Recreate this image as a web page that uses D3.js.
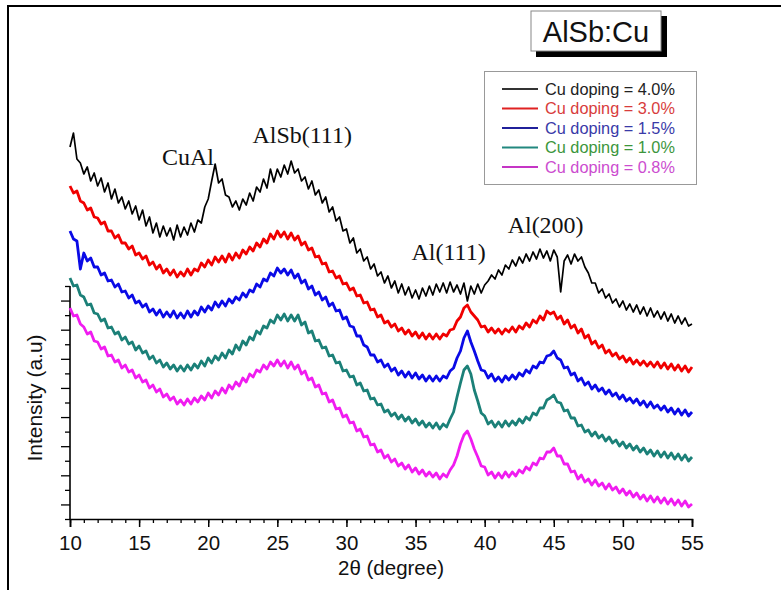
<!DOCTYPE html>
<html><head><meta charset="utf-8">
<script src="https://cdn.jsdelivr.net/npm/d3@7"></script>
<style>body{margin:0;background:#fff}svg{display:block}</style>
</head><body>
<svg id="chart" width="781" height="590"></svg>
<script>
// ---------- data ----------
const thetaStart = 10, thetaStep = 0.25, nPoints = 181;
const twoTheta = d3.range(nPoints).map(i => thetaStart + i * thetaStep);

const cu40 = [
372,386,360,356, 345,352,338,346, 333,341,327,336, 320,330,316,322, 310,318,305,313,
299,309,293,302, 286,296,282,293, 283,291,279,294, 282,292,284,296, 287,299,296,312,
320,338,355,336, 340,324,322,312, 318,309,320,314, 326,318,332,327, 340,331,350,337,
350,342,354,345, 358,346,350,338, 342,330,338,324, 329,316,322,307, 312,298,302,288,
290,276,281,266, 270,258,262,250, 255,243,247,236, 243,231,238,226, 235,224,232,221,
229,220,231,223, 233,224,235,227, 236,226,237,227, 234,225,236,218, 233,225,235,226,
234,238,244,240, 249,244,254,250, 259,253,262,256, 265,258,267,260, 270,261,268,258,
269,262,227,258, 264,255,265,258, 262,252,246,236, 236,226,230,221, 225,216,220,212,
218,209,215,207, 214,205,212,203, 211,202,208,200, 207,198,205,196, 203,195,201,193,
195];
const cu30 = [
333,326,328,318, 316,309,311,302, 301,295,297,288, 288,281,284,276, 276,270,273,264,
266,260,263,254, 257,250,254,246, 250,244,249,242, 247,243,250,244, 250,248,256,252,
259,254,262,257, 263,257,265,259, 266,261,269,265, 272,268,276,272, 280,276,285,280,
288,282,287,280, 286,279,283,274, 277,269,271,262, 263,255,256,247, 248,241,243,235,
236,229,231,223, 224,216,217,209, 210,202,204,196, 198,192,195,188, 191,185,189,183,
187,181,186,180, 185,180,185,180, 185,183,189,190, 198,202,211,214, 207,203,199,192,
193,187,191,186, 190,185,190,187, 192,187,193,190, 196,192,199,196, 203,199,208,205,
207,200,203,195, 199,191,194,186, 190,181,184,175, 178,171,174,166, 169,163,166,160,
163,157,161,155, 159,154,158,153, 157,152,157,151, 156,150,155,149, 154,148,153,147,
152];
const cu15 = [
288,280,278,250, 266,258,261,252, 252,244,246,238, 239,232,235,227, 228,221,224,216,
218,212,215,207, 210,204,209,202, 207,202,208,201, 206,201,208,202, 208,204,212,207,
213,209,217,212, 218,213,220,216, 222,219,226,222, 229,227,235,232, 240,238,246,243,
251,246,250,244, 249,241,245,236, 239,230,233,224, 227,219,222,213, 216,208,209,200,
202,193,192,183, 183,174,172,164, 164,157,159,152, 155,148,151,144, 148,142,147,141,
146,140,144,138, 143,138,143,138, 143,141,148,151, 161,168,181,188, 177,168,158,149,
148,141,145,138, 142,137,143,139, 144,140,146,143, 149,146,153,151, 157,156,163,164,
168,161,159,151, 152,144,146,138, 141,134,137,130, 134,128,131,125, 129,123,126,120,
124,118,121,116, 120,114,118,112, 117,111,114,109, 113,107,111,105, 110,104,109,103,
107];
const cu10 = [
241,233,234,224, 222,214,215,206, 205,198,200,191, 192,185,187,179, 182,175,177,169,
173,166,168,160, 163,156,159,152, 156,150,154,148, 153,148,154,149, 155,151,158,153,
161,156,163,159, 166,161,169,165, 174,169,178,174, 182,179,188,185, 193,191,199,196,
204,199,205,198, 204,198,204,194, 197,186,188,178, 179,171,172,163, 164,156,157,148,
149,142,143,134, 136,128,129,120, 121,114,115,107, 109,103,106,100, 104,98,102,96,
100,94,98,92, 96,91,96,90, 95,92,100,107, 122,136,149,153, 145,129,118,106,
103,95,98,92, 97,92,98,93, 98,94,100,96, 102,99,106,104, 111,111,119,121,
124,117,116,108, 109,101,101,93, 94,87,89,83, 87,81,84,78, 82,76,79,73,
77,71,75,69, 73,67,71,65, 69,63,68,62, 67,61,66,60, 65,59,64,58,
62];
const cu08 = [
211,203,204,195, 192,185,187,178, 177,170,172,163, 164,157,159,151, 154,147,149,141,
144,137,139,131, 134,127,130,122, 125,119,122,115, 119,114,120,115, 121,117,123,119,
126,121,128,124, 131,126,134,130, 137,133,141,137, 145,142,149,147, 154,150,157,153,
159,153,158,151, 157,150,154,145, 148,139,141,132, 134,125,126,117, 119,110,111,102,
104,96,97,88, 90,82,83,74, 75,67,69,61, 64,57,60,53, 56,50,54,47,
51,45,49,43, 47,42,46,40, 45,42,49,54, 63,75,84,88, 80,70,62,53,
52,44,47,41, 46,41,47,42, 47,43,49,46, 52,49,56,54, 61,60,67,67,
71,63,63,55, 55,47,48,40, 44,37,40,34, 39,33,36,30, 35,29,32,26,
30,24,28,22, 26,20,24,18, 23,17,22,16, 21,15,20,14, 19,13,18,12,
15];

const seriesLabels = ["Cu doping = 4.0%","Cu doping = 3.0%","Cu doping = 1.5%","Cu doping = 1.0%","Cu doping = 0.8%"];
const seriesValues = [cu40, cu30, cu15, cu10, cu08];
const lineColors   = ["#000000","#f00000","#0a0ae6","#1b8078","#f01cf0"];
const legendLineColors = ["#333333","#e02222","#20209a","#22887f","#c535c5"];
const legendTextColors = ["#222222","#d83c3c","#3a3aa8","#3c963c","#cc4ccf"];

const xDomain = [10, 55];
const xMajorTicks = [10,15,20,25,30,35,40,45,50,55];
const xMinorTicks = d3.range(10, 56, 1);
const yAxisMax = 233, yTickCount = 16;
const yTicks = d3.range(yTickCount + 1).map(i => i * yAxisMax / yTickCount);

const chartTitle = "AlSb:Cu";
const xTitle = "2\u03B8 (degree)";
const yTitle = "Intensity (a.u)";
const peakLabels = ["CuAl", "AlSb(111)", "Al(111)", "Al(200)"];
const peakTheta  = [18.54, 26.8, 37.39, 44.41];
const peakLevel  = [354, 376, 259, 286];

// ---------- layout ----------
const svg = d3.select("#chart");
const sans = "'Liberation Sans', Arial, sans-serif";
const serif = "'Liberation Serif', 'Times New Roman', serif";
const x = d3.scaleLinear().domain(xDomain).range([70, 692]);
const y = d3.scaleLinear().domain([0, yAxisMax]).range([519, 286]);

// outer frame
svg.append("path").attr("d", "M8,590V6H781").attr("fill", "none")
  .attr("stroke", "#000").attr("stroke-width", 2);

// x axis
const gx = svg.append("g").attr("transform", `translate(0,${y(0)})`);
gx.call(d3.axisBottom(x).tickValues(xMinorTicks).tickSize(4).tickFormat(""));
gx.call(g => g.selectAll(".tick line").attr("stroke-width", 1.3));
const gxM = svg.append("g").attr("transform", `translate(0,${y(0)})`)
  .call(d3.axisBottom(x).tickValues(xMajorTicks).tickSize(8).tickPadding(8).tickFormat(d3.format("d")));
gxM.selectAll(".tick line").attr("stroke-width", 1.5);
gxM.select(".domain").attr("stroke-width", 1.6);
gxM.selectAll("text").attr("font-family", sans).attr("font-size", 20.5).attr("fill", "#111");
gx.select(".domain").remove();

// y axis
const gy = svg.append("g").attr("transform", `translate(${x(xDomain[0])},0)`)
  .call(d3.axisLeft(y).tickValues(yTicks).tickSize(5).tickFormat(""));
gy.selectAll(".tick line").attr("stroke-width", 1.3)
  .attr("x2", (d, i) => i % 2 === 1 ? -9 : -5);
gy.select(".domain").attr("stroke-width", 1.6).attr("d", `M0,${y(0)}V${y(yAxisMax)}`);

// titles
svg.append("text").attr("x", 391).attr("y", 575).attr("text-anchor", "middle")
  .attr("font-family", sans).attr("font-size", 20.5).attr("fill", "#111").text(xTitle);
svg.append("text").attr("transform", "translate(42,398) rotate(-90)").attr("text-anchor", "middle")
  .attr("font-family", sans).attr("font-size", 21).attr("fill", "#111").text(yTitle);

// curves
const line = d3.line().x((d, i) => x(twoTheta[i])).y(d => y(d));
svg.append("g").selectAll("path").data(seriesValues).join("path")
  .attr("d", d => line(d)).attr("fill", "none")
  .attr("stroke", (d, i) => lineColors[i])
  .attr("stroke-width", (d, i) => i === 0 ? 1.7 : 2.8)
  .attr("stroke-linejoin", "round");

// peak labels
svg.append("g").selectAll("text").data(peakLabels).join("text")
  .attr("x", (d, i) => x(peakTheta[i])).attr("y", (d, i) => y(peakLevel[i]))
  .attr("text-anchor", "middle").attr("font-family", serif).attr("font-size", 24)
  .attr("fill", "#111").text(d => d);

// title box with shadow
svg.append("rect").attr("x", 536).attr("y", 16).attr("width", 131).attr("height", 41).attr("fill", "#000");
svg.append("rect").attr("x", 531).attr("y", 11).attr("width", 130).attr("height", 40)
  .attr("fill", "#fff").attr("stroke", "#888").attr("stroke-width", 1);
svg.append("text").attr("x", 596).attr("y", 41.5).attr("text-anchor", "middle")
  .attr("font-family", sans).attr("font-size", 29).attr("fill", "#111").text(chartTitle);

// legend
svg.append("rect").attr("x", 484.5).attr("y", 71.5).attr("width", 212).attr("height", 113)
  .attr("fill", "#fff").attr("stroke", "#999").attr("stroke-width", 1);
const lg = svg.append("g").selectAll("g").data(seriesLabels).join("g")
  .attr("transform", (d, i) => `translate(0,${89 + i * 19.5})`);
lg.append("line").attr("x1", 502).attr("x2", 538).attr("y1", 0).attr("y2", 0)
  .attr("stroke", (d, i) => legendLineColors[i]).attr("stroke-width", 2);
lg.append("text").attr("x", 545).attr("y", 5.8).attr("font-family", sans).attr("font-size", 16.3)
  .attr("fill", (d, i) => legendTextColors[i]).text(d => d);
</script>
</body></html>
